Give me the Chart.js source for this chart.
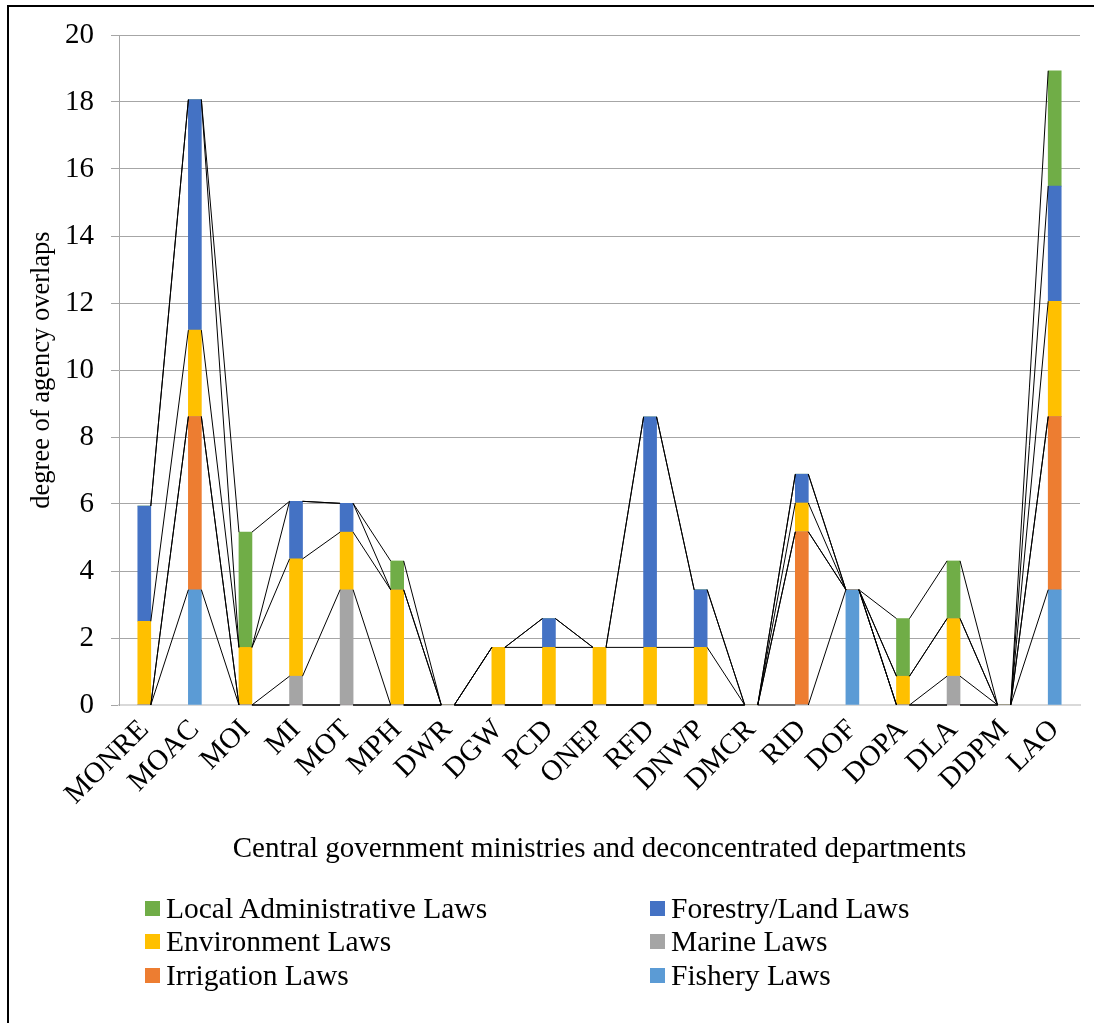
<!DOCTYPE html>
<html>
<head>
<meta charset="utf-8">
<script src="https://cdn.jsdelivr.net/npm/chart.js@4.4.1/dist/chart.umd.min.js"></script>
<style>
  body { margin: 0; background: #fff; }
  #wrap { position: relative; width: 1094px; height: 1023px; overflow: hidden; }
  #frame { position: absolute; left: 7px; top: 5px; width: 1200px; height: 1200px; border: 2px solid #000; box-sizing: border-box; pointer-events: none; }
  #legend { position: absolute; left: 0; top: 0; font-family: 'Liberation Serif', 'Times New Roman', serif; font-size: 29.5px; color: #000; }
  .item { position: absolute; height: 34px; display: flex; align-items: center; white-space: nowrap; }
  .box { width: 15px; height: 15px; margin-right: 6px; }
</style>
</head>
<body>
<div id="wrap">
  <canvas id="overlapChart" width="1094" height="1023"></canvas>
  <div id="legend"></div>
  <div id="frame"></div>
</div>
<script>
const agencies = ['MONRE', 'MOAC', 'MOI', 'MI', 'MOT', 'MPH', 'DWR', 'DGW', 'PCD', 'ONEP',
                  'RFD', 'DNWP', 'DMCR', 'RID', 'DOF', 'DOPA', 'DLA', 'DDPM', 'LAO'];

// stacked bottom -> top
const fisheryLaws     = [0,    3.44, 0,    0,    0,    0,    0, 0,    0,    0,    0,    0,    0, 0,    3.44, 0,    0,    0, 3.44];
const irrigationLaws  = [0,    5.17, 0,    0,    0,    0,    0, 0,    0,    0,    0,    0,    0, 5.17, 0,    0,    0,    0, 5.17];
const marineLaws      = [0,    0,    0,    0.86, 3.44, 0,    0, 0,    0,    0,    0,    0,    0, 0,    0,    0,    0.86, 0, 0];
const environmentLaws = [2.5,  2.58, 1.72, 3.5,  1.72, 3.44, 0, 1.72, 1.72, 1.72, 1.72, 1.72, 0, 0.86, 0,    0.86, 1.72, 0, 3.44];
const forestryLaws    = [3.44, 6.88, 0,    1.72, 0.86, 0,    0, 0,    0.86, 0,    6.88, 1.72, 0, 0.86, 0,    0,    0,    0, 3.44];
const localAdminLaws  = [0,    0,    3.44, 0,    0,    0.86, 0, 0,    0,    0,    0,    0,    0, 0,    0,    1.72, 1.72, 0, 3.44];

const yTicksMax = 20;
const yTickStep = 2;

const serif = "'Liberation Serif', 'Times New Roman', serif";

const series = [
  { label: 'Fishery Laws', data: fisheryLaws, color: '#5B9BD5' },
  { label: 'Irrigation Laws', data: irrigationLaws, color: '#ED7D31' },
  { label: 'Marine Laws', data: marineLaws, color: '#A5A5A5' },
  { label: 'Environment Laws', data: environmentLaws, color: '#FFC000' },
  { label: 'Forestry/Land Laws', data: forestryLaws, color: '#4472C4' },
  { label: 'Local Administrative Laws', data: localAdminLaws, color: '#70AD47' }
];

// Excel style series lines between stacked segments
const seriesLines = {
  id: 'seriesLines',
  afterDatasetsDraw(chart) {
    const ctx = chart.ctx;
    ctx.save();
    ctx.strokeStyle = '#000';
    ctx.lineWidth = 1;
    chart.data.datasets.forEach((ds, di) => {
      const bars = chart.getDatasetMeta(di).data;
      for (let i = 0; i < bars.length - 1; i++) {
        const a = bars[i], b = bars[i + 1];
        ctx.beginPath();
        ctx.moveTo(a.x + a.width / 2, a.y);
        ctx.lineTo(b.x - b.width / 2, b.y);
        ctx.stroke();
      }
    });
    ctx.restore();
  }
};

new Chart(document.getElementById('overlapChart'), {
  type: 'bar',
  data: {
    labels: agencies,
    datasets: series.map(s => ({
      label: s.label,
      data: s.data,
      backgroundColor: s.color,
      borderWidth: 0,
      barThickness: 13
    }))
  },
  options: {
    responsive: false,
    animation: false,
    devicePixelRatio: 1,
    layout: { padding: { left: 10, right: 14, top: 35, bottom: 150 } },
    plugins: {
      legend: { display: false },
      tooltip: { enabled: false }
    },
    scales: {
      x: {
        stacked: true,
        grid: { display: false, drawTicks: false },
        border: { display: true, color: '#d9d9d9', width: 2 },
        ticks: {
          autoSkip: false,
          minRotation: 45,
          maxRotation: 45,
          padding: 8,
          color: '#000',
          font: { family: serif, size: 29 }
        },
        title: {
          display: true,
          text: 'Central government ministries and deconcentrated departments',
          color: '#000',
          font: { family: serif, size: 29 },
          padding: { top: 0, bottom: 6 }
        },
        afterFit(scale) { scale.height = 168; }
      },
      y: {
        stacked: true,
        min: 0,
        max: yTicksMax,
        ticks: {
          stepSize: yTickStep,
          padding: 17,
          color: '#000',
          font: { family: serif, size: 29 }
        },
        grid: {
          color: ctx => (ctx.tick && ctx.tick.value === 0 ? '#d9d9d9' : '#a6a6a6'),
          tickColor: '#a6a6a6',
          tickLength: 8
        },
        border: { color: '#a6a6a6' },
        title: {
          display: true,
          text: 'degree of agency overlaps',
          color: '#000',
          font: { family: serif, size: 26.5 },
          padding: { top: 16, bottom: 0 }
        },
        afterFit(scale) { scale.width = 109; }
      }
    }
  },
  plugins: [seriesLines]
});

// two-column legend, reversed series order like Excel
const legendOrder = series.slice().reverse();
const legendCols = [145, 650];
const legendRows = [908, 941.5, 975];
const legendEl = document.getElementById('legend');
legendOrder.forEach((s, i) => {
  const item = document.createElement('div');
  item.className = 'item';
  item.style.left = legendCols[i % 2] + 'px';
  item.style.top = (legendRows[Math.floor(i / 2)] - 17) + 'px';
  const box = document.createElement('span');
  box.className = 'box';
  box.style.background = s.color;
  const txt = document.createElement('span');
  txt.textContent = s.label;
  item.appendChild(box);
  item.appendChild(txt);
  legendEl.appendChild(item);
});
</script>
</body>
</html>
